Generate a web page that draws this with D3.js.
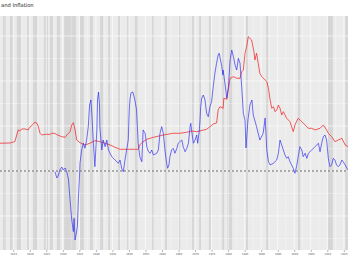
<!DOCTYPE html>
<html><head><meta charset="utf-8">
<script src="https://cdn.jsdelivr.net/npm/d3@7"></script>
<style>body{margin:0;background:#fff}svg{display:block}</style>
</head><body><div id="c"></div>
<script>
const titleText = "and Inflation";
const tickYears = d3.range(1915, 2016, 5);
const recessionStart = [1911.9,1914.0,1916.1,1919.2,1921.0,1924.3,1926.1,1928.2,1930.4,1935.2,1938.2,1941.3,1943.7,1946.7,1949.4,1951.8,1957.0,1960.9,1964.8,1969.1,1971.2,1974.2,1978.2,1979.7,1985.4,1991.5,2001.1,2010.2,2015.4];
const recessionEnd   = [1912.8,1914.9,1917.4,1919.8,1922.2,1925.5,1927.0,1929.2,1934.0,1936.4,1939.1,1942.2,1944.3,1947.3,1950.0,1952.7,1957.6,1961.5,1965.5,1969.7,1971.8,1974.8,1978.8,1981.2,1986.0,1992.1,2001.8,2011.7,2016.3];
const rateYears = [1911.0,1914.0,1915.5,1916.5,1917.0,1917.6,1918.6,1919.5,1920.1,1921.1,1921.6,1922.1,1922.6,1923.1,1923.6,1925.1,1926.1,1926.6,1927.6,1928.2,1929.7,1930.7,1931.2,1932.2,1932.7,1933.2,1933.7,1934.2,1935.2,1936.7,1938.2,1939.7,1941.2,1942.8,1944.3,1945.8,1947.3,1950.3,1952.8,1953.3,1953.9,1955.4,1957.4,1960.4,1963.4,1965.4,1967.5,1969.0,1970.5,1973.5,1975.5,1976.5,1977.0,1977.5,1978.5,1978.7,1979.6,1980.6,1981.6,1982.6,1983.6,1984.1,1984.6,1985.1,1985.6,1986.1,1986.6,1987.1,1987.4,1987.8,1988.1,1988.6,1989.1,1989.6,1990.2,1991.2,1991.7,1992.2,1992.7,1993.2,1993.7,1994.2,1994.7,1995.2,1995.7,1996.2,1996.7,1997.7,1998.7,1999.7,2000.2,2001.2,2002.3,2003.3,2004.3,2005.3,2006.3,2007.8,2008.8,2009.8,2010.3,2011.3,2012.3,2013.3,2014.4,2015.4,2016.3];
const rateValues = [3.08,3.11,3.26,4.56,4.44,4.67,4.67,4.56,4.89,5.22,5.44,5.33,4.94,4.19,4.0,4.08,4.06,4.19,4.17,4.03,3.81,3.74,4.0,4.37,5.11,5.37,4.56,3.44,3.14,2.89,3.08,3.37,3.26,3.08,2.89,2.63,2.41,2.41,2.41,2.89,3.14,3.52,3.74,4.0,4.19,4.19,4.3,4.44,4.37,4.63,5.22,5.33,6.78,7.14,6.97,8.08,7.97,10.3,10.48,10.3,10.3,11.03,11.22,13.08,13.81,14.92,14.74,14.56,14.0,13.26,12.33,13.08,11.97,10.86,10.48,10.11,9.92,9.19,7.89,6.97,7.14,6.59,6.78,7.33,6.97,6.22,6.59,5.86,5.48,4.37,5.11,5.86,5.48,5.11,4.74,4.74,4.56,4.74,5.11,4.56,4.19,3.81,3.26,3.44,3.63,2.89,2.7];
const inflYears = [1927.6,1928.2,1928.6,1929.1,1929.7,1930.1,1930.7,1931.2,1931.7,1932.2,1932.7,1933.2,1933.4,1933.7,1934.0,1934.4,1934.7,1935.0,1935.2,1935.7,1936.2,1936.7,1937.2,1937.7,1938.1,1938.5,1938.8,1939.2,1939.7,1940.3,1940.5,1940.8,1941.1,1941.2,1941.8,1942.2,1942.8,1943.3,1943.8,1944.3,1944.8,1945.3,1945.8,1946.8,1947.3,1947.8,1948.3,1948.8,1949.3,1949.8,1950.1,1950.3,1950.6,1951.2,1951.8,1952.3,1952.8,1953.3,1953.9,1954.3,1954.9,1955.4,1955.9,1956.4,1956.9,1957.4,1958.4,1958.9,1959.4,1959.9,1960.4,1960.9,1961.4,1961.7,1962.1,1962.4,1962.9,1963.4,1963.9,1964.5,1964.9,1965.4,1966.0,1966.4,1967.0,1967.5,1968.0,1968.5,1968.7,1969.0,1969.5,1970.0,1970.5,1970.8,1971.3,1971.5,1971.7,1972.0,1972.5,1973.0,1973.5,1974.0,1974.5,1975.0,1975.5,1976.0,1976.5,1977.0,1977.3,1977.5,1978.1,1978.4,1978.5,1979.1,1979.6,1980.1,1980.6,1981.1,1981.6,1982.1,1982.6,1983.1,1983.6,1984.1,1984.6,1985.1,1985.4,1986.0,1986.6,1987.2,1987.6,1988.6,1989.6,1990.6,1991.2,1991.7,1992.2,1992.7,1993.7,1994.7,1995.2,1995.7,1996.2,1996.7,1997.2,1997.7,1998.2,1998.7,1999.2,1999.7,2000.2,2000.7,2001.2,2001.7,2002.3,2002.7,2003.3,2003.8,2004.3,2005.3,2006.3,2006.8,2007.3,2007.8,2008.3,2008.8,2009.3,2009.8,2010.3,2010.8,2011.3,2011.8,2012.3,2012.8,2013.3,2013.8,2014.4,2014.8,2015.4,2015.9,2016.3];
const inflValues = [-0.08,-0.78,-0.56,0.11,0.44,0.11,0.33,-0.11,-0.89,-3.22,-5.44,-6.74,-5.26,-7.67,-7.11,-6.19,-3.22,-1.0,0.89,2.33,3.08,2.52,3.44,4.92,7.33,7.89,6.22,3.44,0.48,4.56,7.89,8.78,7.33,4.92,2.33,3.44,2.7,3.44,2.33,1.97,1.59,1.41,1.22,0.86,1.22,0.3,-0.08,1.22,2.33,3.44,6.78,7.89,8.67,8.78,7.89,6.78,3.08,1.59,1.03,4.56,4.19,2.7,2.14,1.97,2.33,1.78,1.97,2.33,4.19,4.92,4.19,2.33,0.86,0.3,0.67,1.59,2.33,2.52,1.97,2.52,3.08,3.26,3.44,2.7,2.14,2.52,3.08,4.92,5.3,4.37,3.08,3.44,4.0,3.08,4.56,5.67,7.14,8.08,8.44,7.89,6.41,6.03,7.14,7.7,9.37,10.86,11.97,12.89,13.08,12.7,11.59,10.67,11.22,9.56,8.08,9.37,12.33,13.44,12.7,11.78,11.22,12.52,11.97,9.37,6.41,5.67,2.56,5.67,7.33,7.89,6.22,4.92,3.44,4.19,5.89,2.33,1.03,0.67,0.86,1.22,1.97,3.44,2.89,2.33,1.78,1.41,1.59,1.03,0.67,0.3,-0.26,0.48,1.59,2.7,2.33,1.59,1.97,1.41,1.97,2.33,2.7,2.89,3.08,2.14,3.08,3.81,4.0,3.44,1.41,0.48,0.67,1.41,1.22,0.67,0.48,0.67,1.22,1.03,0.67,0.3,0.11];

const W = 348, H = 268;
const panel = {left: 0, right: 348, top: 16, bottom: 250};
const svg = d3.select("#c").append("svg").attr("width", W).attr("height", H);
const x = d3.scaleLinear().domain([1911, 2016.26]).range([panel.left, panel.right]);
const y = d3.scaleLinear().domain([-8.78, 17.22]).range([panel.bottom, panel.top]);

svg.append("rect").attr("x", panel.left).attr("y", panel.top).attr("width", panel.right - panel.left).attr("height", panel.bottom - panel.top).attr("fill", "#ebebeb");

const g = svg.append("g");
g.selectAll("rect.rec").data(recessionStart.map((s, i) => [s, recessionEnd[i]])).join("rect")
  .attr("x", d => x(d[0])).attr("width", d => Math.max(1, x(d[1]) - x(d[0])))
  .attr("y", panel.top).attr("height", panel.bottom - panel.top)
  .attr("fill", "#bdbdbd").attr("opacity", 0.45);

const yMajor = [-5, 0, 5, 10, 15], yMinor = [-7.5, -2.5, 2.5, 7.5, 12.5];
g.selectAll("line.ymin").data(yMinor).join("line").attr("x1", panel.left).attr("x2", panel.right)
  .attr("y1", d => y(d)).attr("y2", d => y(d)).attr("stroke", "#fff").attr("stroke-width", 0.4).attr("opacity", 0.8);
g.selectAll("line.ymaj").data(yMajor).join("line").attr("x1", panel.left).attr("x2", panel.right)
  .attr("y1", d => y(d)).attr("y2", d => y(d)).attr("stroke", "#fff").attr("stroke-width", 0.8).attr("opacity", 0.8);
const xMinor = tickYears.map(t => t - 2.5).concat([2017.5]);
g.selectAll("line.xmin").data(xMinor).join("line").attr("y1", panel.top).attr("y2", panel.bottom)
  .attr("x1", d => x(d)).attr("x2", d => x(d)).attr("stroke", "#fff").attr("stroke-width", 0.4).attr("opacity", 0.8);
g.selectAll("line.xmaj").data(tickYears).join("line").attr("y1", panel.top).attr("y2", panel.bottom)
  .attr("x1", d => x(d)).attr("x2", d => x(d)).attr("stroke", "#fff").attr("stroke-width", 0.8).attr("opacity", 0.8);

g.append("line").attr("x1", panel.left).attr("x2", panel.right).attr("y1", y(0)).attr("y2", y(0))
  .attr("stroke", "#555").attr("stroke-width", 0.9).attr("stroke-dasharray", "2,2");

const line = d3.line().x(d => x(d[0])).y(d => y(d[1]));
g.append("path").datum(rateYears.map((t, i) => [t, rateValues[i]])).attr("d", line)
  .attr("fill", "none").attr("stroke", "#f21f1f").attr("stroke-opacity", 0.8).attr("stroke-width", 0.9);
g.append("path").datum(inflYears.map((t, i) => [t, inflValues[i]])).attr("d", line)
  .attr("fill", "none").attr("stroke", "#2b2bf0").attr("stroke-opacity", 0.75).attr("stroke-width", 0.9);

const ax = svg.append("g").attr("transform", `translate(0,${panel.bottom})`)
  .call(d3.axisBottom(x).tickValues(tickYears).tickFormat(d3.format("d")).tickSize(2).tickPadding(1));
ax.select(".domain").remove();
ax.selectAll("line").attr("stroke", "#444").attr("stroke-width", 0.4);
ax.selectAll("text").attr("font-size", 2.6).attr("fill", "#555").attr("font-family", "DejaVu Sans");

svg.append("text").attr("x", 1).attr("y", 7).attr("text-anchor", "start")
  .attr("font-family", "DejaVu Sans").attr("font-size", 5.2).attr("fill", "#222").text(titleText);
</script></body></html>
